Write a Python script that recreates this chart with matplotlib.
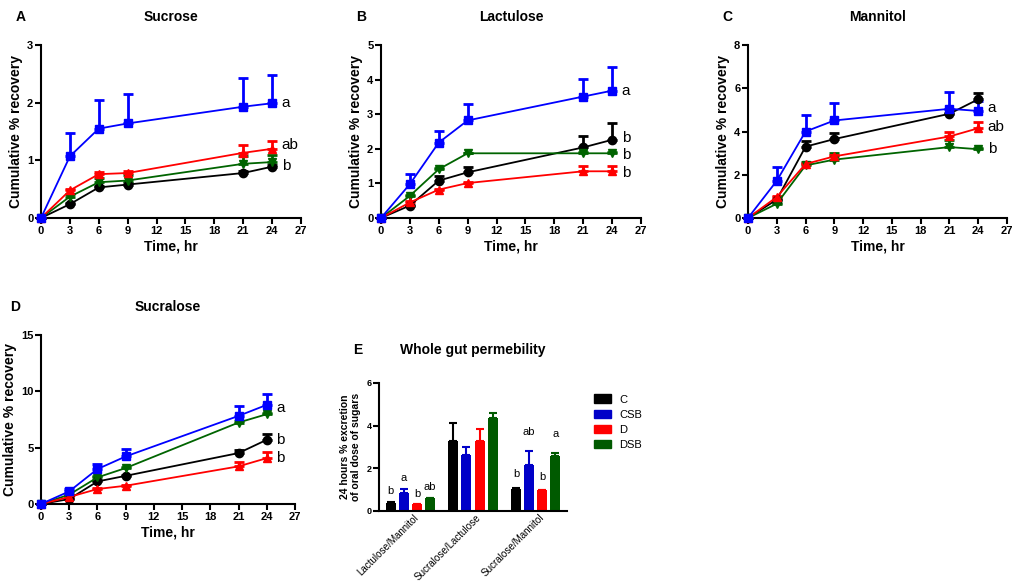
import matplotlib
matplotlib.use("Agg")
import matplotlib.pyplot as plt
from matplotlib.patches import Patch
import numpy as np

plt.rcParams["font.family"] = ["Liberation Sans", "DejaVu Sans"]

TIME = [0, 3, 6, 9, 21, 24]
GROUPS = ["C", "CSB", "D", "DSB"]
COLORS = {"C": "#000000", "CSB": "#0000FF", "D": "#FF0000", "DSB": "#006400"}
BAR_COLORS = {"C": "#000000", "CSB": "#0000C8", "D": "#FF0000", "DSB": "#005A00"}
MARKERS = {"C": "o", "CSB": "s", "D": "^", "DSB": "v"}

# mean values, cumulative % recovery
sucrose = {
    "C":   [0, 0.24, 0.53, 0.58, 0.78, 0.89],
    "CSB": [0, 1.07, 1.55, 1.64, 1.93, 1.99],
    "D":   [0, 0.48, 0.76, 0.78, 1.13, 1.20],
    "DSB": [0, 0.37, 0.62, 0.65, 0.94, 0.97],
}
sucrose_err = {
    "C":   [0, 0.02, 0.03, 0.03, 0.03, 0.03],
    "CSB": [0, 0.40, 0.50, 0.51, 0.49, 0.49],
    "D":   [0, 0.03, 0.03, 0.03, 0.14, 0.14],
    "DSB": [0, 0.04, 0.08, 0.09, 0.13, 0.13],
}
lactulose = {
    "C":   [0, 0.36, 1.08, 1.32, 2.04, 2.26],
    "CSB": [0, 0.98, 2.18, 2.82, 3.51, 3.68],
    "D":   [0, 0.45, 0.82, 1.01, 1.35, 1.35],
    "DSB": [0, 0.64, 1.41, 1.87, 1.87, 1.87],
}
lactulose_err = {
    "C":   [0, 0.03, 0.13, 0.14, 0.34, 0.50],
    "CSB": [0, 0.30, 0.34, 0.48, 0.51, 0.67],
    "D":   [0, 0.03, 0.03, 0.03, 0.16, 0.16],
    "DSB": [0, 0.03, 0.03, 0.02, 0.03, 0.03],
}
mannitol = {
    "C":   [0, 0.85, 3.30, 3.65, 4.82, 5.49],
    "CSB": [0, 1.72, 4.00, 4.51, 5.05, 4.95],
    "D":   [0, 0.97, 2.50, 2.85, 3.77, 4.15],
    "DSB": [0, 0.66, 2.43, 2.70, 3.28, 3.18],
}
mannitol_err = {
    "C":   [0, 0.05, 0.25, 0.30, 0.05, 0.30],
    "CSB": [0, 0.63, 0.74, 0.83, 0.78, 0.47],
    "D":   [0, 0.05, 0.05, 0.05, 0.23, 0.30],
    "DSB": [0, 0.05, 0.17, 0.30, 0.32, 0.05],
}
sucralose = {
    "C":   [0, 0.44, 2.00, 2.50, 4.52, 5.70],
    "CSB": [0, 1.12, 3.10, 4.22, 7.82, 8.80],
    "D":   [0, 0.62, 1.33, 1.62, 3.34, 4.07],
    "DSB": [0, 0.83, 2.36, 3.19, 7.23, 7.97],
}
sucralose_err = {
    "C":   [0, 0.05, 0.10, 0.10, 0.28, 0.50],
    "CSB": [0, 0.20, 0.47, 0.68, 0.88, 0.97],
    "D":   [0, 0.05, 0.08, 0.08, 0.41, 0.53],
    "DSB": [0, 0.05, 0.10, 0.10, 0.10, 0.10],
}

# (letter, y position) next to the 24 h values
sucrose_letters = [("a", 1.99), ("ab", 1.27), ("b", 0.90)]
lactulose_letters = [("a", 3.68), ("b", 2.32), ("b", 1.82), ("b", 1.30)]
mannitol_letters = [("a", 5.10), ("ab", 4.20), ("b", 3.20)]
sucralose_letters = [("a", 8.50), ("b", 5.70), ("b", 4.10)]

# whole gut permeability, 24 h
RATIOS = ["Lactulose/Mannitol", "Sucralose/Lactulose", "Sucralose/Mannitol"]
ratio_mean = {
    "C":   [0.38, 3.30, 1.05],
    "CSB": [0.85, 2.62, 2.15],
    "D":   [0.31, 3.30, 0.97],
    "DSB": [0.61, 4.35, 2.58],
}
ratio_err = {
    "C":   [0.04, 0.82, 0.03],
    "CSB": [0.19, 0.40, 0.68],
    "D":   [0.03, 0.53, 0.03],
    "DSB": [0.02, 0.24, 0.15],
}
ratio_letters = {
    "C":   ["b", "", "b"],
    "CSB": ["a", "", "ab"],
    "D":   ["b", "", "b"],
    "DSB": ["ab", "", "a"],
}
ratio_letter_y = {
    "C":   [0.94, 0, 1.73],
    "CSB": [1.55, 0, 3.72],
    "D":   [0.82, 0, 1.60],
    "DSB": [1.13, 0, 3.61],
}

W, H = 1018, 583
fig = plt.figure(figsize=(W / 100, H / 100), dpi=100)


def px_axes(left, top, right, bottom):
    return fig.add_axes([left / W, 1 - bottom / H, (right - left) / W, (bottom - top) / H])


def style_axes(ax, tick_size=8):
    for s in ["top", "right"]:
        ax.spines[s].set_visible(False)
    for s in ["left", "bottom"]:
        ax.spines[s].set_linewidth(1.5)
    ax.tick_params(width=1.5, length=4, labelsize=tick_size, pad=1.5)
    for lab in ax.get_xticklabels() + ax.get_yticklabels():
        lab.set_fontweight("bold")


def time_panel(box, data, err, ymax, yticks, letters, letter, title, lx):
    ax = px_axes(*box)
    for g in ["C", "DSB", "D", "CSB"]:
        col = COLORS[g]
        ax.errorbar(TIME, data[g], yerr=[np.zeros(len(TIME)), err[g]],
                    color=col, marker=MARKERS[g], markersize=6, lw=1.3,
                    elinewidth=2, capsize=3.5, capthick=2, clip_on=False, zorder=3)
    ax.set_xlim(0, 27)
    ax.set_ylim(0, ymax)
    ax.set_xticks(range(0, 28, 3))
    ax.set_yticks(yticks)
    ax.set_xlabel("Time, hr", fontsize=10, fontweight="bold", labelpad=3)
    ax.set_ylabel("Cumulative % recovery", fontsize=10, fontweight="bold", labelpad=3)
    style_axes(ax)
    for txt, y in letters:
        ax.text(25.0, y, txt, fontsize=11, va="center", ha="left")
    top = box[1]
    fig.text(lx / W, 1 - (top - 28) / H, letter, fontsize=10, fontweight="bold",
             ha="left", va="center")
    fig.text(((box[0] + box[2]) / 2) / W, 1 - (top - 28) / H, title, fontsize=10,
             fontweight="bold", ha="center", va="center")
    return ax


time_panel((41, 45, 301, 218), sucrose, sucrose_err, 3, [0, 1, 2, 3],
           sucrose_letters, "A", "Sucrose", 16)
time_panel((381, 45, 641, 218), lactulose, lactulose_err, 5, [0, 1, 2, 3, 4, 5],
           lactulose_letters, "B", "Lactulose", 356)
time_panel((748, 45, 1007, 218), mannitol, mannitol_err, 8, [0, 2, 4, 6, 8],
           mannitol_letters, "C", "Mannitol", 722)
time_panel((41, 335, 295, 504), sucralose, sucralose_err, 15, [0, 5, 10, 15],
           sucralose_letters, "D", "Sucralose", 10)

# panel E
ax = px_axes(379, 383, 567, 511)
x = np.arange(len(RATIOS)) * 1.0
bw = 0.16
step = 0.21
for i, g in enumerate(GROUPS):
    xs = x + (i - 1.5) * step
    ax.bar(xs, ratio_mean[g], width=bw, color=BAR_COLORS[g], zorder=2)
    ax.errorbar(xs, ratio_mean[g], yerr=[np.zeros(3), ratio_err[g]], fmt="none",
                ecolor=BAR_COLORS[g], elinewidth=1.5, capsize=3, capthick=1.5, zorder=3)
    for xi, txt, ty in zip(xs, ratio_letters[g], ratio_letter_y[g]):
        if txt:
            ax.text(xi, ty, txt, fontsize=8, ha="center", va="center")
ax.set_xlim(x[0] - 0.5, x[-1] + 0.5)
ax.set_ylim(0, 6)
ax.set_yticks([0, 2, 4, 6])
ax.set_xticks(x + 0.05)
ax.set_ylabel("24 hours % excretion\nof oral dose of sugars", fontsize=7.5,
              fontweight="bold", labelpad=4, linespacing=1.1)
style_axes(ax, tick_size=6.5)
ax.tick_params(axis="x", length=0, pad=1)
ax.set_xticklabels(RATIOS, rotation=45, ha="right", rotation_mode="anchor",
                   fontsize=7.1, fontweight="normal")
fig.text(358 / W, 1 - 350 / H, "E", fontsize=10, fontweight="bold", ha="center", va="center")
fig.text(473 / W, 1 - 350 / H, "Whole gut permebility", fontsize=10, fontweight="bold",
         ha="center", va="center")

handles = [Patch(facecolor=BAR_COLORS[g], edgecolor=BAR_COLORS[g], label=g) for g in GROUPS]
fig.legend(handles=handles, loc="upper left", bbox_to_anchor=(590 / W, 1 - 390 / H),
           frameon=False, fontsize=8, handlelength=1.5, handleheight=0.8,
           labelspacing=0.45, handletextpad=0.7, borderaxespad=0)

fig.savefig("out.png", dpi=100)
